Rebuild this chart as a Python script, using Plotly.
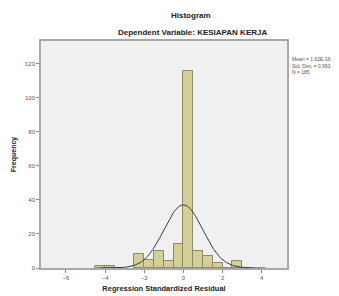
import numpy as np
import plotly.graph_objects as go

bin_left = [-4.5, -4.0, -2.5, -2.0, -1.5, -1.0, -0.5, 0.0, 0.5, 1.0, 1.5, 2.0, 2.5]
counts = [1, 1, 8, 5, 10, 4, 14, 116, 10, 7, 3, 0, 4]
bin_width = 0.5
mean_val = 1.62e-16
std_val = 0.993
n_val = 185
x_ticks = [-6, -4, -2, 0, 2, 4]
y_ticks = [0, 20, 40, 60, 80, 100, 120]

centers = [b + bin_width / 2 for b in bin_left]
xs = np.linspace(-4.2, 4.2, 300)
ys = n_val * bin_width / (std_val * np.sqrt(2 * np.pi)) * np.exp(-0.5 * ((xs - mean_val) / std_val) ** 2)

fig = go.Figure()
fig.add_trace(go.Bar(x=centers, y=counts, width=bin_width,
                     marker=dict(color="#d4cf96", line=dict(color="#8c8a68", width=1)),
                     showlegend=False))
fig.add_trace(go.Scatter(x=xs, y=ys, mode="lines",
                         line=dict(color="#3a3a3a", width=1), showlegend=False))

font = "Liberation Sans, Arial, sans-serif"
L, R, T, B = 41, 52, 41, 28
W, H = 339, 296
pw, ph = W - L - R, H - T - B
fig.update_layout(
    width=W, height=H,
    margin=dict(l=L, r=R, t=T, b=B, autoexpand=False),
    paper_bgcolor="white", plot_bgcolor="#f0f0f0",
    font=dict(family=font, size=6, color="#555555"),
    bargap=0,
)
fig.update_xaxes(range=[-7.27, 5.29], tickvals=x_ticks, ticks="outside", ticklen=3,
                 tickcolor="#888888", showgrid=False, zeroline=False, automargin=False,
                 showline=True, linecolor="#a8a8a8", linewidth=1.5, mirror=True,
                 tickfont=dict(size=6, color="#555555"),
                 title=dict(text="<b>Regression Standardized Residual</b>",
                            font=dict(size=7.5, color="#222222"), standoff=6))
fig.update_yaxes(range=[0, 133.5], tickvals=y_ticks, ticks="outside", ticklen=3,
                 tickcolor="#888888", showgrid=False, zeroline=False, automargin=False,
                 showline=True, linecolor="#a8a8a8", linewidth=1.5, mirror=True,
                 tickfont=dict(size=6, color="#555555"),
                 title=dict(text="<b>Frequency</b>", font=dict(size=7, color="#222222"), standoff=8))


def px(xp):
    return (xp - L) / pw


def py(yp):
    return (H - B - yp) / ph


fig.add_annotation(text="<b>Histogram</b>", xref="paper", yref="paper",
                   x=px(191), y=py(15), showarrow=False,
                   font=dict(size=8, color="#222222"), xanchor="center", yanchor="middle")
fig.add_annotation(text="<b>Dependent Variable: KESIAPAN KERJA</b>", xref="paper", yref="paper",
                   x=px(192), y=py(33), showarrow=False,
                   font=dict(size=8, color="#222222"), xanchor="center", yanchor="middle")
stats = "Mean = 1.62E-16<br>Std. Dev. = 0.993<br>N = %d" % n_val
fig.add_annotation(text=stats, xref="paper", yref="paper",
                   x=px(290), y=py(54), showarrow=False, align="left",
                   xanchor="left", yanchor="top",
                   font=dict(size=5, color="#555555"))

fig.write_html("out.html", config={"displayModeBar": False},
               post_script="document.body.style.margin='0';document.body.style.overflow='hidden';")
